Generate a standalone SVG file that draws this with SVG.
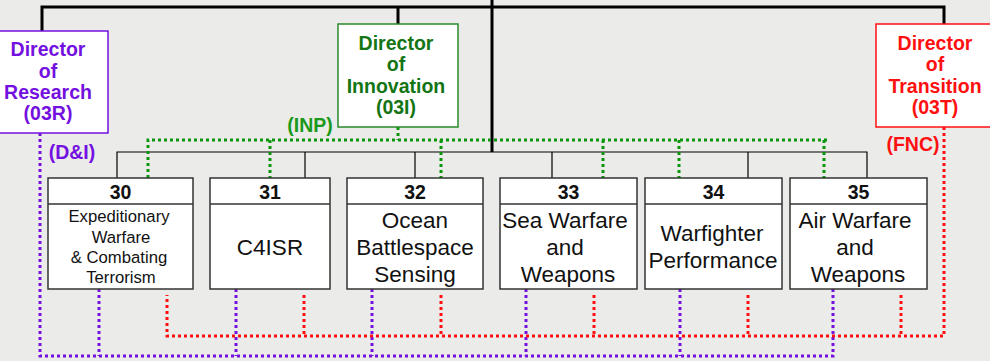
<svg xmlns="http://www.w3.org/2000/svg" width="990" height="361" viewBox="0 0 990 361">
<style>
.bg{fill:#ebebe9}
.solid{stroke:#000;fill:none}
.thick{stroke-width:3}
.thin{stroke-width:1.2}
.dot{fill:none;stroke-width:3;stroke-dasharray:3 3}
.pur{stroke:#7410e0}
.grn{stroke:#0a960a}
.red{stroke:#ff1010}
.dir{fill:#fff;stroke-width:1.5}
.dt{font-family:"Liberation Sans",Arial,sans-serif;font-weight:bold;font-size:19.5px;text-anchor:middle}
.box{fill:#fff;stroke:#333;stroke-width:1.5}
.num{font-family:"Liberation Sans",Arial,sans-serif;font-weight:bold;font-size:19.5px;text-anchor:middle;fill:#111}
.lbl{font-family:"Liberation Sans",Arial,sans-serif;font-size:22.5px;text-anchor:middle;fill:#111}
.sm{font-size:16.7px}
</style>
<rect class="bg" x="0" y="0" width="990" height="361"/>
<g id="connectors">
  <path class="solid thick" d="M42,31 V7 H944 V24"/>
  <path class="solid thick" d="M398,7 V24"/>
  <path class="solid thick" d="M492,0 V152"/>
  <path class="solid thin" d="M117,178 V152 H867 V178 M305,152 V178 M415,152 V178 M552,152 V178 M748,152 V178"/>
  <path class="dot grn" d="M398,127 V140 M148,178 V140 H828 M270,140 V178 M441,140 V178 M603,140 V178 M679,140 V178 M824,140 V178"/>
  <path class="dot pur" d="M40,133 V356 H833 V289 M99,289 V356 M236,289 V356 M372,289 V356 M526,289 V356 M680,289 V356"/>
  <path class="dot red" d="M944,127 V336 H167 V295 M304,295 V336 M441,295 V336 M594,295 V336 M748,295 V336 M901,295 V336"/>
  <text class="dt" x="310" y="132" fill="#1a9a1a">(INP)</text>
  <text class="dt" x="72" y="159" fill="#7410e0">(D&amp;I)</text>
  <text class="dt" x="913" y="151" fill="#ff1010">(FNC)</text>
</g>
<g id="research">
  <rect class="dir" x="-12" y="31" width="120" height="102" stroke="#7410e0"/>
  <text class="dt" fill="#7410e0"><tspan x="48" y="56">Director</tspan><tspan x="48" y="78">of</tspan><tspan x="48" y="99">Research</tspan><tspan x="48" y="120">(03R)</tspan></text>
</g>
<g id="innovation">
  <rect class="dir" x="338" y="24" width="120" height="103" stroke="#2a8a2a"/>
  <text class="dt" fill="#147514"><tspan x="396" y="50">Director</tspan><tspan x="396" y="71">of</tspan><tspan x="396" y="93">Innovation</tspan><tspan x="396" y="114">(03I)</tspan></text>
</g>
<g id="transition">
  <rect class="dir" x="876" y="24" width="124" height="103" stroke="#ff1010"/>
  <text class="dt" fill="#ff1010"><tspan x="935" y="50">Director</tspan><tspan x="935" y="71">of</tspan><tspan x="935" y="93">Transition</tspan><tspan x="935" y="114">(03T)</tspan></text>
</g>
<g id="n30">
  <rect class="box" x="48" y="178" width="145" height="111"/>
  <line class="box" x1="48" y1="204" x2="193" y2="204"/>
  <text class="num" x="120.5" y="199">30</text>
  <text class="lbl sm"><tspan x="119" y="222">Expeditionary</tspan><tspan x="121" y="243">Warfare</tspan><tspan x="119" y="263">&amp; Combating</tspan><tspan x="121" y="283">Terrorism</tspan></text>
</g>
<g id="n31">
  <rect class="box" x="210" y="178" width="120" height="111"/>
  <line class="box" x1="210" y1="204" x2="330" y2="204"/>
  <text class="num" x="270" y="199">31</text>
  <text class="lbl" x="270" y="255">C4ISR</text>
</g>
<g id="n32">
  <rect class="box" x="347" y="178" width="136" height="111"/>
  <line class="box" x1="347" y1="204" x2="483" y2="204"/>
  <text class="num" x="415" y="199">32</text>
  <text class="lbl"><tspan x="415" y="228">Ocean</tspan><tspan x="415" y="255">Battlespace</tspan><tspan x="415" y="282">Sensing</tspan></text>
</g>
<g id="n33">
  <rect class="box" x="500" y="178" width="137" height="111"/>
  <line class="box" x1="500" y1="204" x2="637" y2="204"/>
  <text class="num" x="568.5" y="199">33</text>
  <text class="lbl"><tspan x="565" y="228">Sea Warfare</tspan><tspan x="565" y="255">and</tspan><tspan x="568" y="282">Weapons</tspan></text>
</g>
<g id="n34">
  <rect class="box" x="645" y="178" width="137" height="111"/>
  <line class="box" x1="645" y1="204" x2="782" y2="204"/>
  <text class="num" x="713.5" y="199">34</text>
  <text class="lbl"><tspan x="712" y="241">Warfighter</tspan><tspan x="713" y="268">Performance</tspan></text>
</g>
<g id="n35">
  <rect class="box" x="790" y="178" width="137" height="111"/>
  <line class="box" x1="790" y1="204" x2="927" y2="204"/>
  <text class="num" x="858.5" y="199">35</text>
  <text class="lbl"><tspan x="855" y="228">Air Warfare</tspan><tspan x="855" y="255">and</tspan><tspan x="858" y="282">Weapons</tspan></text>
</g>
</svg>
